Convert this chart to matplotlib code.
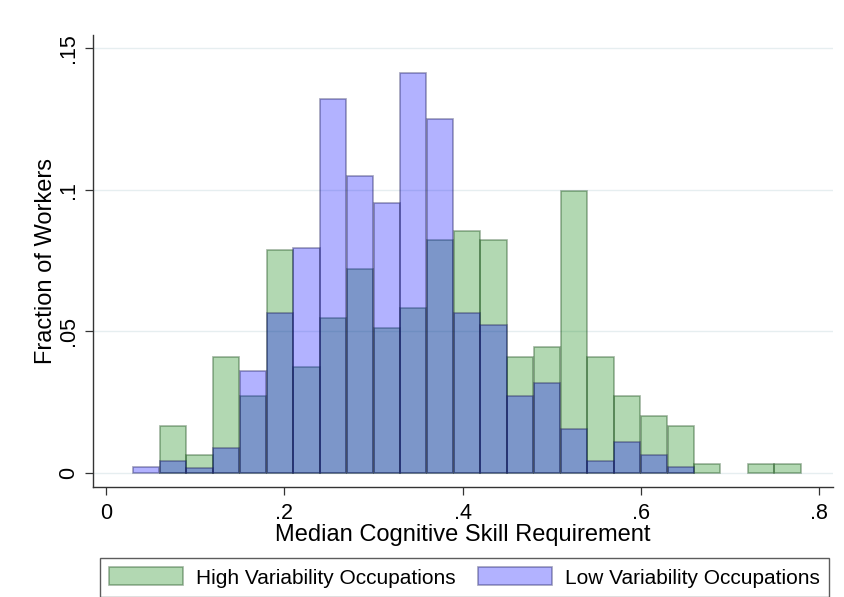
import numpy as np
import matplotlib
matplotlib.use("Agg")
import matplotlib.pyplot as plt
from matplotlib.patches import Patch

plt.rcParams['font.family'] = ['Liberation Sans', 'DejaVu Sans']

# histogram bins (left edges), width .03
bin_left = [0.03, 0.06, 0.09, 0.12, 0.15, 0.18, 0.21, 0.24, 0.27, 0.30, 0.33, 0.36, 0.39,
            0.42, 0.45, 0.48, 0.51, 0.54, 0.57, 0.60, 0.63, 0.66, 0.69, 0.72, 0.75]
high_var = [0.0, 0.0167, 0.0064, 0.0408, 0.0271, 0.0788, 0.0375, 0.0547, 0.0721, 0.0513,
            0.0583, 0.0823, 0.0856, 0.0823, 0.0408, 0.0443, 0.0994, 0.0408, 0.0271, 0.0202,
            0.0167, 0.0031, 0.0, 0.0031, 0.0031]
low_var = [0.0019, 0.0041, 0.0018, 0.0086, 0.0361, 0.0566, 0.0794, 0.1321, 0.1047, 0.0954,
           0.1413, 0.1251, 0.0566, 0.0521, 0.0271, 0.0316, 0.0156, 0.0041, 0.011, 0.0064,
           0.0019, 0.0, 0.0, 0.0, 0.0]
bin_width = 0.03

y_ticks = [0, 0.05, 0.1, 0.15]
y_ticklabels = ["0", ".05", ".1", ".15"]
x_ticks = [0, 0.2, 0.4, 0.6, 0.8]
x_ticklabels = ["0", ".2", ".4", ".6", ".8"]

green_face = (0, 128/255, 0, 0.3)
green_edge = (0.1, 0.3, 0.1, 0.42)
blue_face = (0, 0, 1, 0.3)
blue_edge = (0.1, 0.1, 0.35, 0.42)

fig = plt.figure(figsize=(8.44, 5.97), dpi=100)
ax = fig.add_axes([0.1098, 0.1848, 0.8775, 0.7566])

x = np.array(bin_left)
hv = np.array(high_var)
lv = np.array(low_var)
m = hv > 0
ax.bar(x[m], hv[m], width=bin_width - 0.0006, align='edge', color=green_face,
       edgecolor=green_edge, linewidth=1.2, zorder=2)
m = lv > 0
ax.bar(x[m], lv[m], width=bin_width - 0.0006, align='edge', color=blue_face,
       edgecolor=blue_edge, linewidth=1.2, zorder=3)

ax.set_xlim(-0.0152, 0.816)
ax.set_ylim(-0.0049, 0.1547)
ax.set_yticks(y_ticks)
ax.set_yticklabels(y_ticklabels, rotation=90, va='center')
ax.set_xticks(x_ticks)
ax.set_xticklabels(x_ticklabels)
ax.tick_params(axis='both', labelsize=15.5, length=6, width=0.9, pad=4, color='#333333')
ax.tick_params(axis='x', pad=6)

for yv in y_ticks:
    ax.axhline(yv, color='#e6eef0', linewidth=1.0, zorder=1)

for s in ['top', 'right']:
    ax.spines[s].set_visible(False)
for s in ['left', 'bottom']:
    ax.spines[s].set_linewidth(1.0)
    ax.spines[s].set_color('#333333')

ax.set_xlabel("Median Cognitive Skill Requirement", fontsize=17, labelpad=0)
ax.set_ylabel("Fraction of Workers", fontsize=17, labelpad=0.5)

handles = [Patch(facecolor=green_face, edgecolor=green_edge, linewidth=1.2),
           Patch(facecolor=blue_face, edgecolor=blue_edge, linewidth=1.2)]
leg = fig.legend(handles, ["High Variability Occupations", "Low Variability Occupations"],
                 loc='upper left', bbox_to_anchor=(100/844, 1 - 558/597), ncol=2,
                 fontsize=15, frameon=True, fancybox=False, handlelength=3.55,
                 handleheight=0.96, handletextpad=0.62, columnspacing=1.05,
                 borderpad=0.45, borderaxespad=0)
leg.get_frame().set_edgecolor('#333333')
leg.get_frame().set_linewidth(1.0)

fig.savefig("out.png", dpi=100)
